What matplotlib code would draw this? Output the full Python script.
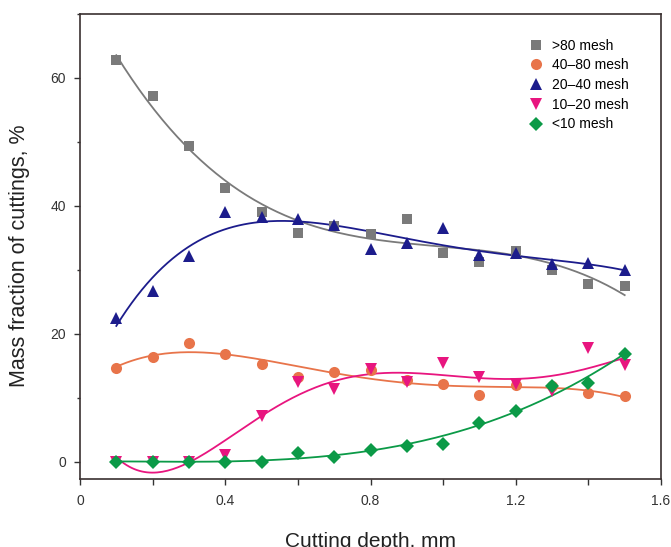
import numpy as np
import matplotlib
matplotlib.use("Agg")
import matplotlib.pyplot as plt
from matplotlib.ticker import MultipleLocator

plt.rcParams['font.family'] = ['Liberation Sans', 'DejaVu Sans']

depth = [0.1, 0.2, 0.3, 0.4, 0.5, 0.6, 0.7, 0.8, 0.9, 1.0, 1.1, 1.2, 1.3, 1.4, 1.5]

mesh_80 = [62.8, 57.2, 49.4, 42.8, 39.1, 35.7, 36.9, 35.6, 38.0, 32.7, 31.3, 33.0, 29.9, 27.8, 27.4]
mesh_40_80 = [14.6, 16.3, 18.6, 16.9, 15.3, 13.2, 14.0, 14.3, 12.8, 12.2, 10.5, 12.0, 11.8, 10.7, 10.3]
mesh_20_40 = [22.5, 26.7, 32.1, 39.1, 38.2, 37.9, 37.0, 33.2, 34.2, 36.6, 32.3, 32.6, 30.9, 31.1, 29.9]
mesh_10_20 = [0.0, 0.0, 0.0, 1.1, 7.2, 12.5, 11.3, 14.5, 12.4, 15.4, 13.2, 12.2, 11.1, 17.8, 15.2]
mesh_10 = [0.0, 0.0, 0.0, 0.0, 0.0, 1.4, 0.8, 1.9, 2.4, 2.8, 6.1, 8.0, 11.9, 12.3, 16.9]

labels = [">80 mesh", "40\u201380 mesh", "20\u201340 mesh", "10\u201320 mesh", "<10 mesh"]
series = [mesh_80, mesh_40_80, mesh_20_40, mesh_10_20, mesh_10]
colors = ["#7a7a7a", "#e8744a", "#1c1c8c", "#e8157f", "#0b9a47"]
markers = ["s", "o", "^", "v", "D"]
msizes = [7.5, 8, 8.5, 8.5, 7.5]
degrees = [3, 4, 4, 5, 3]

fig = plt.figure(figsize=(6.71, 5.47), dpi=100)
ax = fig.add_axes([80 / 671, 1 - 479 / 547, 581 / 671, 465 / 547])

# fitted trend lines + measured points
x = np.array(depth)
xs = np.linspace(x.min(), x.max(), 200)
for vals, lab, c, m, ms, deg in zip(series, labels, colors, markers, msizes, degrees):
    coef = np.polyfit(x, vals, deg)
    ax.plot(xs, np.polyval(coef, xs), color=c, linewidth=1.3, zorder=2)
    ax.plot(x, vals, linestyle="none", marker=m, markersize=ms, color=c,
            markeredgewidth=0, label=lab, zorder=3)

ax.set_xlim(0, 1.6)
ax.set_ylim(-2.7, 70)
ax.xaxis.set_minor_locator(MultipleLocator(0.2))
ax.yaxis.set_minor_locator(MultipleLocator(10))
ax.set_xticks([0, 0.4, 0.8, 1.2, 1.6])
ax.set_xticklabels(["0", "0.4", "0.8", "1.2", "1.6"])
ax.set_yticks([0, 20, 40, 60])
ax.tick_params(which="major", direction="out", length=4, width=1, labelsize=10, colors="#333333")
ax.tick_params(axis="x", which="minor", direction="out", length=4, width=1, colors="#333333")
ax.tick_params(axis="y", which="minor", direction="out", length=2.5, width=1, colors="#333333")
ax.tick_params(axis="x", pad=7)
ax.tick_params(axis="y", pad=6)
for sp in ax.spines.values():
    sp.set_color("#3a3030")
    sp.set_linewidth(1.2)

ax.set_xlabel("Cutting depth, mm", fontsize=15, labelpad=17, color="#222222")
ax.set_ylabel("Mass fraction of cuttings, %", fontsize=15.5, color="#222222")
ax.yaxis.set_label_coords(-0.086, 0.48)

ax.legend(loc="upper right", bbox_to_anchor=(0.962, 0.968), frameon=False, fontsize=10,
          handletextpad=0.55, labelspacing=0.41, borderaxespad=0.3, handlelength=1.2)

fig.savefig("out.png", dpi=100)
